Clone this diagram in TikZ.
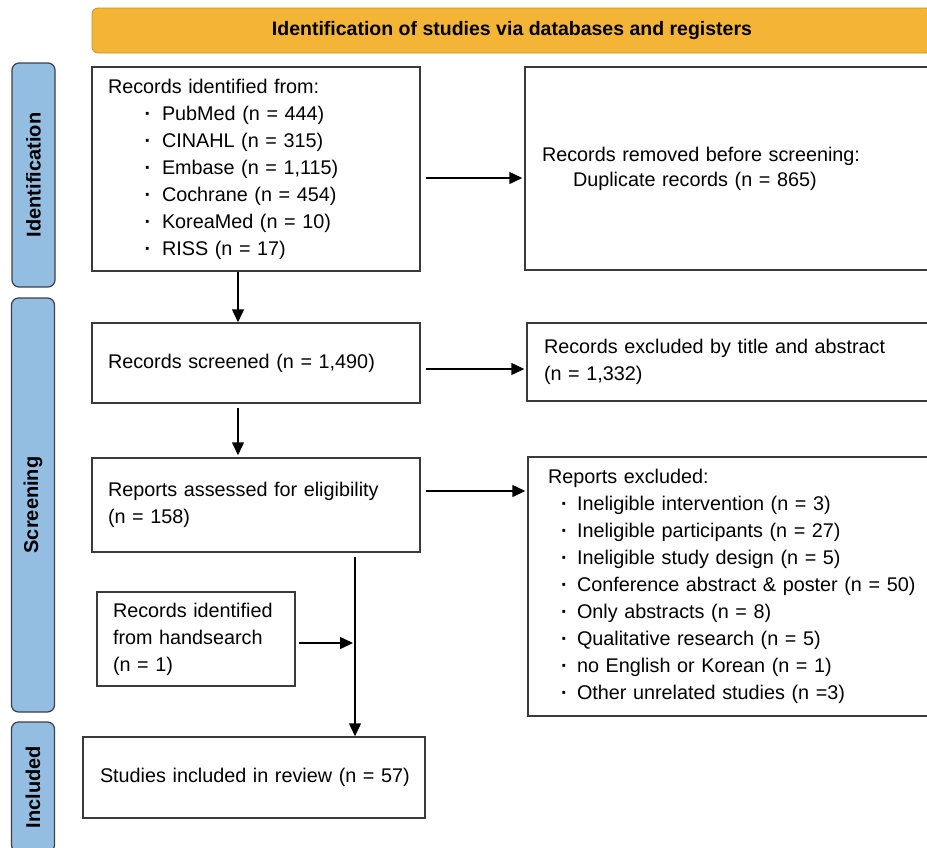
\documentclass[tikz,border=0pt]{standalone}
\usepackage{fontspec}
\setmainfont{Liberation Sans}
\usetikzlibrary{arrows.meta}
\definecolor{bannerfill}{HTML}{F4B435}
\definecolor{bannerline}{HTML}{C39030}
\definecolor{sidefill}{HTML}{94BDE2}
\definecolor{sideline}{HTML}{3A4048}
\definecolor{boxline}{HTML}{3A3A3A}
\newcommand{\bul}{\hspace*{26pt}\makebox[28pt]{\bfseries ·}}
\newcommand{\bulr}{\hspace*{4pt}\makebox[25pt]{\bfseries ·}}
\begin{document}
\begin{tikzpicture}[x=1pt,y=-1pt,
  box/.style={draw=boxline, line width=1.5pt, rectangle, align=left, inner ysep=0pt,
    font=\fontsize{19.8}{27}\selectfont},
  side/.style={draw=sideline, fill=sidefill, line width=1.2pt, rounded corners=7pt,
    inner sep=0pt, rotate=90, minimum height=43pt, font=\fontsize{20}{24}\selectfont\bfseries},
  arr/.style={line width=1.5pt, draw=black, -{Triangle[length=13pt,width=12pt]}},
]
\useasboundingbox (0,0) rectangle (927,847);
\clip (0,0) rectangle (927,847);

% banner
\node[draw=bannerline, fill=bannerfill, line width=0.8pt, rounded corners=6pt,
      minimum width=840pt, minimum height=45pt, inner sep=0pt,
      font=\fontsize{19.5}{24}\selectfont\bfseries] (banner) at (512,30.5)
      {Identification of studies via databases and registers};

% side bars
\node[side, minimum width=224pt] (sid) at (33.5,175) {Identification};
\node[side, minimum width=414pt] (sscr) at (33,505) {Screening};
\node[side, minimum width=130pt] (sinc) at (33,787) {Included};

% left column
\node[box, inner xsep=16pt, text width=296pt, minimum height=204pt] (ident) at (256,169)
  {Records identified from:\\
   \bul PubMed (n = 444)\\
   \bul CINAHL (n = 315)\\
   \bul Embase (n = 1,115)\\
   \bul Cochrane (n = 454)\\
   \bul KoreaMed (n = 10)\\
   \bul RISS (n = 17)};

\node[box, inner xsep=16pt, text width=296pt, minimum height=80pt] (screened) at (256,363)
  {Records screened (n = 1,490)};

\node[box, inner xsep=16pt, text width=296pt, minimum height=94pt] (assessed) at (256,505)
  {Reports assessed for eligibility\\(n = 158)};

\node[box, inner xsep=10pt, text width=178pt, minimum height=94pt] (hand) at (196,639)
  {\hspace*{6pt}Records identified\\\hspace*{6pt}from handsearch\\\hspace*{6pt}(n = 1)};

\node[box, inner xsep=10pt, text width=322pt, minimum height=81pt] (included) at (254,777.5)
  {\hspace*{7pt}Studies included in review (n = 57)};

% right column
\node[box, inner xsep=17pt, text width=381pt, minimum height=203pt] (removed) at (732.5,168.5)
  {Records removed before screening:\\[-2pt]
   \hspace*{31pt}Duplicate records (n = 865)};

\node[box, inner xsep=17pt, text width=379pt, minimum height=78pt] (excl1) at (733.5,362)
  {Records excluded by title and abstract\\(n = 1,332)};

\node[box, inner xsep=20pt, text width=372pt, minimum height=259pt] (excl2) at (734,586.5)
  {Reports excluded:\\
   \bulr Ineligible intervention (n = 3)\\
   \bulr Ineligible participants (n = 27)\\
   \bulr Ineligible study design (n = 5)\\
   \bulr Conference abstract \& poster (n = 50)\\
   \bulr Only abstracts (n = 8)\\
   \bulr Qualitative research (n = 5)\\
   \bulr no English or Korean (n = 1)\\
   \bulr Other unrelated studies (n =3)};

% connectors
\draw[arr] ([xshift=5pt,yshift=-9pt]ident.east) -- ([xshift=-2pt,yshift=-9.5pt]removed.west);
\draw[arr] ([xshift=-18pt]ident.south) -- ([xshift=-18pt]screened.north);
\draw[arr] ([xshift=5pt,yshift=-6pt]screened.east) -- ([xshift=-2pt,yshift=-7pt]excl1.west);
\draw[arr] ([xshift=-18pt,yshift=-4pt]screened.south) -- ([xshift=-18pt,yshift=2pt]assessed.north);
\draw[arr] ([xshift=5pt,yshift=14pt]assessed.east) -- ([xshift=-2pt,yshift=95.5pt]excl2.west);

\coordinate (dtop) at ([xshift=99pt,yshift=-4pt]assessed.south);
\coordinate (dbot) at (dtop |- included.north);
\coordinate (dj) at ([yshift=-4pt]dtop |- hand.east);
\draw[arr] (dtop) -- (dbot);
\draw[arr] ([xshift=3pt,yshift=-4pt]hand.east) -- ([xshift=-2pt]dj);
\end{tikzpicture}
\end{document}
